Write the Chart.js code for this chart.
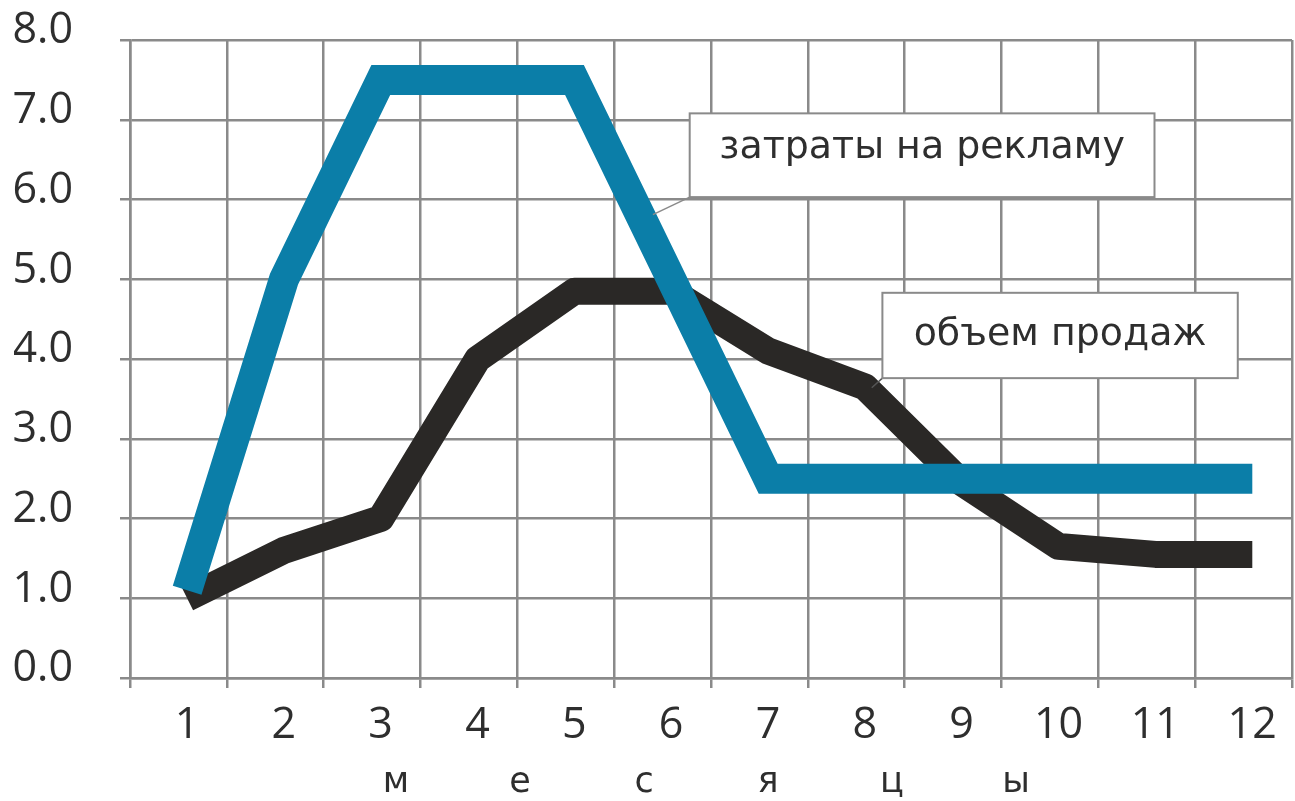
<!DOCTYPE html>
<html>
<head>
<meta charset="utf-8">
<script src="https://cdn.jsdelivr.net/npm/chart.js@4.4.1/dist/chart.umd.min.js"></script>
<style>
  html, body { margin: 0; padding: 0; background: #ffffff; }
  #wrap { width: 1295px; height: 801px; }
</style>
</head>
<body>
<div id="wrap"><canvas id="c" width="1295" height="801"></canvas></div>
<script>
// ---- data ----
const months = ['1','2','3','4','5','6','7','8','9','10','11','12'];
const adSpend = [1.1, 5.0, 7.5, 7.5, 7.5, 5.0, 2.5, 2.5, 2.5, 2.5, 2.5, 2.5];
const salesVolume = [1.0, 1.6, 2.0, 4.0, 4.85, 4.85, 4.1, 3.65, 2.45, 1.65, 1.55, 1.55];
const seriesNames = ['затраты на рекламу', 'объем продаж'];
const yTickValues = [0, 1, 2, 3, 4, 5, 6, 7, 8];
const axisTitle = 'месяцы';

// ---- styling / layout ----
const GRID = '#8a8a8a';
const TEXT = '#2e2e2e';
const BLUE = '#0b7ea8';
const BLACK = '#2a2826';
const X_MIN = 0.41;             // first vertical grid line (in month units)
const X_MAX = X_MIN + months.length;

const callouts = [
  { text: seriesNames[0], x1: 6.19, x2: 10.99, y1: 7.08, y2: 6.03, base: 6.52, width: 406,
    tail: [6.19, 6.03, 5.81, 5.81], tailColor: '#8a8a8a' },
  { text: seriesNames[1], x1: 8.18, x2: 11.85, y1: 4.83, y2: 3.76, base: 4.18, width: 293,
    tail: [8.18, 3.76, 8.07, 3.64], tailColor: '#555555' }
];

const calloutPlugin = {
  id: 'callouts',
  afterDatasetsDraw(chart) {
    const { ctx, scales: { x, y } } = chart;
    ctx.save();
    callouts.forEach(c => {
      const l = x.getPixelForValue(c.x1), r = x.getPixelForValue(c.x2);
      const t = y.getPixelForValue(c.y1), b = y.getPixelForValue(c.y2);
      ctx.strokeStyle = c.tailColor;
      ctx.lineWidth = 1.5;
      ctx.beginPath();
      ctx.moveTo(x.getPixelForValue(c.tail[0]), y.getPixelForValue(c.tail[1]));
      ctx.lineTo(x.getPixelForValue(c.tail[2]), y.getPixelForValue(c.tail[3]));
      ctx.stroke();
      ctx.fillStyle = '#ffffff';
      ctx.fillRect(l, t, r - l, b - t);
      ctx.strokeStyle = '#8a8a8a';
      ctx.lineWidth = 2;
      ctx.strokeRect(l, t, r - l, b - t);
      const base = 30;
      ctx.font = base + 'px "DejaVu Sans"';
      const w = ctx.measureText(c.text).width;
      const size = base * c.width / w;
      ctx.font = size.toFixed(1) + 'px "DejaVu Sans"';
      ctx.fillStyle = TEXT;
      ctx.textAlign = 'center';
      ctx.textBaseline = 'alphabetic';
      ctx.fillText(c.text, (l + r) / 2, y.getPixelForValue(c.base));
    });
    ctx.restore();
  }
};

const spacedTitlePlugin = {
  id: 'spacedTitle',
  afterDraw(chart) {
    const { ctx, chartArea } = chart;
    const letters = Array.from(axisTitle);
    const step = 124;
    const cx = (chartArea.left + chartArea.right) / 2 - 5;
    ctx.save();
    ctx.font = '35px "DejaVu Sans"';
    ctx.fillStyle = TEXT;
    ctx.textAlign = 'center';
    ctx.textBaseline = 'alphabetic';
    letters.forEach((ch, i) => {
      const px = cx + (i - (letters.length - 1) / 2) * step;
      ctx.fillText(ch, px, 792);
    });
    ctx.restore();
  }
};

function noPad(scale) {
  scale.paddingTop = 0; scale.paddingBottom = 0;
  scale.paddingLeft = 0; scale.paddingRight = 0;
}

new Chart(document.getElementById('c'), {
  type: 'line',
  data: {
    datasets: [
      {
        label: seriesNames[0],
        data: months.map((m, i) => ({ x: +m, y: adSpend[i] })),
        borderColor: BLUE,
        borderWidth: 30,
        borderJoinStyle: 'miter',
        borderCapStyle: 'butt',
        pointRadius: 0,
        tension: 0,
        fill: false
      },
      {
        label: seriesNames[1],
        data: months.map((m, i) => ({ x: +m, y: salesVolume[i] })),
        borderColor: BLACK,
        borderWidth: 27,
        borderJoinStyle: 'round',
        borderCapStyle: 'butt',
        pointRadius: 0,
        tension: 0,
        fill: false
      }
    ]
  },
  options: {
    responsive: false,
    animation: false,
    devicePixelRatio: 1,
    layout: { padding: { left: 14, top: 40, right: 3, bottom: 0 } },
    plugins: { legend: { display: false }, tooltip: { enabled: false }, title: { display: false } },
    scales: {
      x: {
        type: 'linear',
        min: X_MIN,
        max: X_MAX,
        afterBuildTicks(scale) {
          scale.ticks = months.concat(['']).map((m, i) => ({ value: X_MIN + i }));
        },
        afterFit(scale) { scale.height = 123; noPad(scale); },
        grid: { color: GRID, lineWidth: 2.5, tickLength: 10, drawTicks: true },
        border: { color: GRID, width: 2.5 },
        ticks: {
          autoSkip: false,
          maxRotation: 0,
          labelOffset: 57,
          padding: 12,
          color: TEXT,
          font: { family: '"Open Sans"', size: 43 },
          callback: (v, i) => (i < months.length ? months[i] : '')
        }
      },
      y: {
        min: 0,
        max: 8,
        afterBuildTicks(scale) {
          scale.ticks = yTickValues.map(v => ({ value: v }));
        },
        afterFit(scale) { scale.width = 116; noPad(scale); },
        grid: { color: GRID, lineWidth: 2.5, tickLength: 10, drawTicks: true },
        border: { color: GRID, width: 2.5 },
        ticks: {
          padding: 47,
          labelOffset: -9,
          color: TEXT,
          font: { family: '"Open Sans"', size: 43 },
          callback: v => Number(v).toFixed(1)
        }
      }
    }
  },
  plugins: [calloutPlugin, spacedTitlePlugin]
});
</script>
</body>
</html>
